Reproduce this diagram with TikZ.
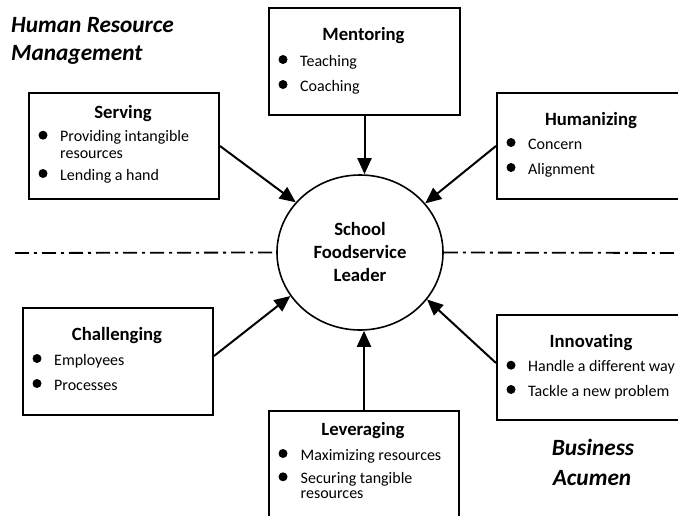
\documentclass[tikz,border=0pt]{standalone}
\usepackage{fontspec}
\setmainfont{Carlito}[Ligatures=NoCommon]
\usetikzlibrary{arrows.meta,calc,shapes.geometric}
\begin{document}
\begin{tikzpicture}[x=1pt,y=-1pt,
  box/.style={draw, line width=2pt, rectangle, minimum width=190pt, anchor=north west, inner sep=0pt},
  ttl/.style={font=\fontsize{18.7}{22}\selectfont\bfseries, anchor=base, inner sep=0pt},
  itm/.style={font=\fontsize{16}{16.5}\selectfont, anchor=base west, inner sep=0pt},
  bul/.style={circle, fill=black, minimum size=9pt, inner sep=0pt},
  hdr/.style={font=\fontsize{23.3}{28}\selectfont\bfseries\itshape, inner sep=0pt},
  arr/.style={line width=2pt, -{Triangle[length=16pt,width=14pt]}},
  dd/.style={line width=1.8pt, dash pattern=on 14pt off 5pt on 3pt off 5pt},
]
\clip (0,0) rectangle (678,515);

% central leader
\node[ellipse, draw, line width=1.6pt, minimum width=166pt, minimum height=155pt, inner sep=0pt] (circ) at (360,252.5) {};
\node[font=\fontsize{18.7}{23}\selectfont\bfseries, align=center, inner sep=0pt] (lead) at (circ.center) {School\\Foodservice\\Leader};

% headings
\node[hdr, anchor=base west] (hrm1) at (11,32) {Human Resource};
\node[hdr, anchor=base west] (hrm2) at (11,60) {Management};
\node[hdr, anchor=base] (ba1) at (593,455) {Business};
\node[hdr, anchor=base] (ba2) at (592,485) {Acumen};

% boxes
\node[box, minimum width=191pt, minimum height=107pt] (mentoring) at (268,7) {};
\node[box, minimum height=106pt] (serving) at (28,92) {};
\node[box, minimum height=106pt] (humanizing) at (496,92) {};
\node[box, minimum height=107pt] (challenging) at (22,307) {};
\node[box, minimum height=120pt] (leveraging) at (268,410) {};
\node[box, minimum height=105pt] (innovating) at (496,314) {};

% Mentoring
\node[ttl] (mt) at (363.5,40) {Mentoring};
\node[bul] (mb1) at (283,59.5) {};
\node[itm] (mi1) at (300,66) {Teaching};
\node[bul] (mb2) at (283,84.5) {};
\node[itm] (mi2) at (300,91) {Coaching};

% Serving
\node[ttl] (st) at (123,118.3) {Serving};
\node[bul] (sb1) at (43,135.2) {};
\node[itm] (si1) at (60,141.7) {Providing intangible};
\node[itm] (si1b) at (60,158.3) {resources};
\node[bul] (sb2) at (43,173.5) {};
\node[itm] (si2) at (60,180) {Lending a hand};

% Humanizing
\node[ttl] (ht) at (591,125) {Humanizing};
\node[bul] (hb1) at (511,142.5) {};
\node[itm] (hi1) at (528,149) {Concern};
\node[bul] (hb2) at (511,167.5) {};
\node[itm] (hi2) at (528,174) {Alignment};

% Challenging
\node[ttl] (ct) at (117,340.7) {Challenging};
\node[bul] (cb1) at (37,358.5) {};
\node[itm] (ci1) at (54,365) {Employees};
\node[bul] (cb2) at (37,383.5) {};
\node[itm] (ci2) at (54,390) {Processes};

% Leveraging
\node[ttl] (lt) at (363,435) {Leveraging};
\node[bul] (lb1) at (283,453.5) {};
\node[itm] (li1) at (300.5,460) {Maximizing resources};
\node[bul] (lb2) at (283,476.8) {};
\node[itm] (li2) at (300.5,483.3) {Securing tangible};
\node[itm] (li2b) at (300.5,498.3) {resources};

% Innovating
\node[ttl] (it) at (591,347) {Innovating};
\node[bul] (ib1) at (511,365.2) {};
\node[itm] (ii1) at (528,371.7) {Handle a different way};
\node[bul] (ib2) at (511,389.5) {};
\node[itm] (ii2) at (528,396) {Tackle a new problem};

% dash-dot divider
\coordinate (dl) at (15,253);
\coordinate (dr) at (690,253);
\draw[dd] (dl) -- (circ.west);
\draw[dd] (circ.east) -- (dr);

% arrows
\draw[arr] (mentoring.south) -- (mentoring.south |- circ.north);
\draw[arr] (serving.east) -- (circ.142.9);
\draw[arr] (humanizing.west) -- (circ.37.5);
\draw[arr] ($(challenging.east)+(0,-5.5)$) -- (circ.212);
\draw[arr] (leveraging.north) -- (leveraging.north |- circ.south);
\draw[arr] ($(innovating.west)+(0,-4.5)$) -- (circ.325);
\end{tikzpicture}
\end{document}
